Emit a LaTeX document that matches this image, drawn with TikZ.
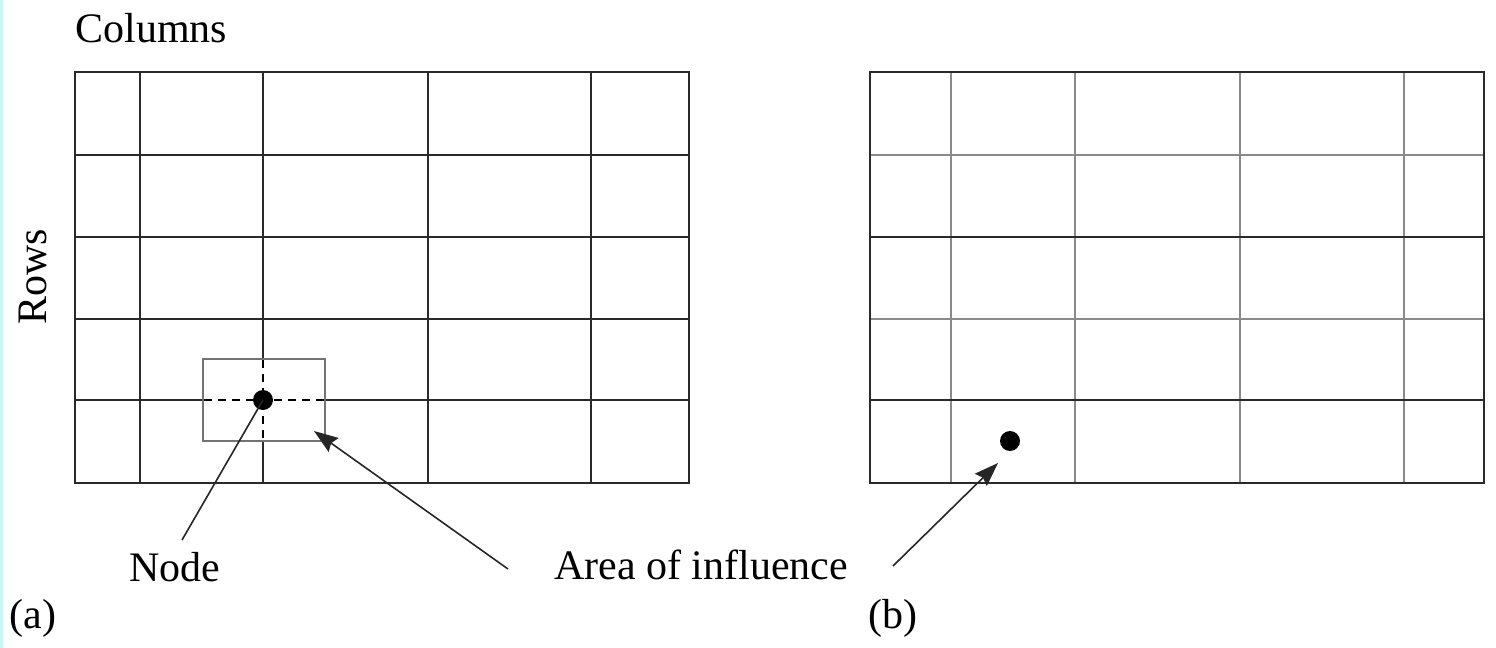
\documentclass[tikz,border=0pt]{standalone}
\usepackage{fontspec}
\setmainfont{Liberation Serif}
\usetikzlibrary{arrows.meta}
\definecolor{stripe}{HTML}{CDF5F8}
\definecolor{gridgray}{HTML}{8A8A8A}
\definecolor{griddark}{HTML}{2A2A2A}
\begin{document}
\begin{tikzpicture}[x=0.5pt,y=-0.5pt,
  gridline/.style={draw=griddark,line width=1pt},
  gridsoft/.style={draw=gridgray,line width=1pt},
  lbl/.style={font=\fontsize{21}{25}\selectfont,inner sep=0pt},
  dotnode/.style={circle,fill=black,inner sep=0pt,minimum size=10pt},
  leader/.style={draw=black!85,line width=0.8pt},
  dashline/.style={draw=black,line width=0.8pt,dash pattern=on 4pt off 3pt},
  pointer/.style={leader,-{Stealth[length=12pt,width=8.5pt,inset=1.5pt]}}]
\useasboundingbox (0,0) rectangle (1496,648);
\fill[stripe] (0,0) rectangle (3,648);
% ---------- (a) ----------
\foreach \x in {140,263,428,591} \draw[gridline] (\x,72) -- (\x,483);
\foreach \y in {155,237,319,400} \draw[gridline] (75,\y) -- (689,\y);
\draw[gridline] (75,72) rectangle (689,483);
% area of influence box
\fill[white] (203,359) rectangle (325,441);
\draw[draw=black!55,line width=1pt] (203,359) rectangle (325,441);
\draw[dashline] (204,400) -- (324,400);
\draw[dashline] (263,360) -- (263,440);
\node[dotnode] (dotA) at (263,400) {};
% ---------- (b) ----------
\foreach \x in {951,1075,1240,1404} \draw[gridsoft] (\x,72) -- (\x,483);
\foreach \y in {155,319} \draw[gridsoft] (870,\y) -- (1484,\y);
\foreach \y in {237,400} \draw[gridline] (870,\y) -- (1484,\y);
\draw[gridline] (870,72) rectangle (1484,483);
\node[dotnode] (dotB) at (1010,441) {};
% ---------- labels ----------
\node[lbl,anchor=base west] (cols) at (75,42) {Columns};
\node[lbl,rotate=90] (rows) at (33,277) {Rows};
\node[lbl,anchor=base] (nodelbl) at (175,581) {Node};
\node[lbl,anchor=base] (arealbl) at (701,579) {Area of influence};
\node[lbl,anchor=base] (capA) at (33,628) {(a)};
\node[lbl,anchor=base] (capB) at (893,628) {(b)};
% ---------- connectors ----------
\coordinate (nodeTail) at (182,540);
\coordinate (areaTailA) at (508,569);
\coordinate (areaTipA) at (314,431);
\coordinate (areaTailB) at (893,566);
\coordinate (areaTipB) at (998,463);
\draw[leader] (nodeTail) -- (dotA.center);
\draw[pointer] (areaTailA) -- (areaTipA);
\draw[pointer] (areaTailB) -- (areaTipB);
\end{tikzpicture}
\end{document}
